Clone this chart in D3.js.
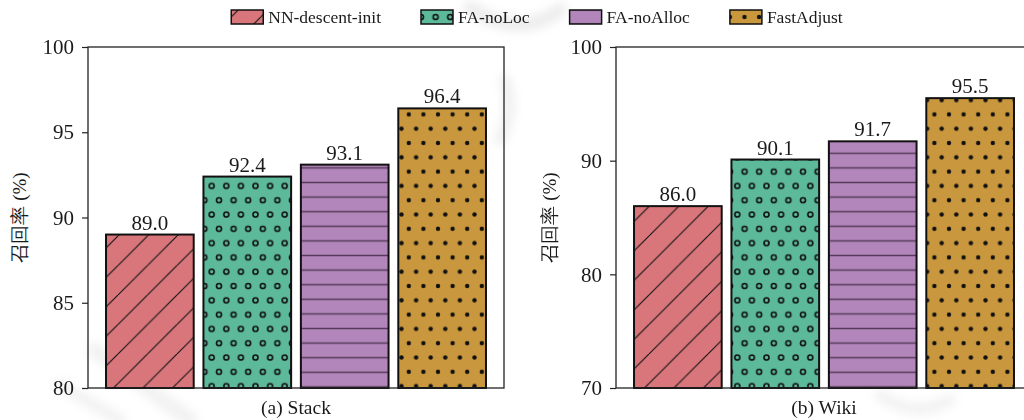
<!DOCTYPE html>
<html>
<head>
<meta charset="utf-8">
<script src="https://cdn.jsdelivr.net/npm/d3@7/dist/d3.min.js"></script>
<style>
  html, body { margin: 0; padding: 0; background: #fff; }
  svg { display: block; }
  text { font-family: "Liberation Serif", "DejaVu Serif", serif; fill: #1a1a1a; }
</style>
</head>
<body>
<svg id="chart" width="1024" height="420"></svg>
<script>
// Recall of each neighbour-graph construction variant on two datasets
const methods = ["NN-descent-init", "FA-noLoc", "FA-noAlloc", "FastAdjust"];
const stackRecall = [89.0, 92.4, 93.1, 96.4];
const wikiRecall = [86.0, 90.1, 91.7, 95.5];
const stackTicks = [80, 85, 90, 95, 100];
const wikiTicks = [70, 80, 90, 100];
const panelTitles = ["(a) Stack", "(b) Wiki"];
const yAxisTitle = "召回率 (%)";

const fills = ["#d9767b", "#5cb99a", "#b286bb", "#c9973d"];
const hatchIds = ["hatch-slash", "hatch-ring", "hatch-hline", "hatch-dot"];

const svg = d3.select("#chart");
const defs = svg.append("defs");

// diagonal "/" hatch
{
  const s = 29.5;
  const p = defs.append("pattern").attr("id", hatchIds[0])
    .attr("patternUnits", "userSpaceOnUse").attr("width", s).attr("height", s);
  p.append("rect").attr("width", s).attr("height", s).attr("fill", fills[0]);
  [[-s, s, 0, 0], [0, s, s, 0], [s, s, 2 * s, 0]].forEach(([x1, y1, x2, y2]) =>
    p.append("line").attr("x1", x1).attr("y1", y1).attr("x2", x2).attr("y2", y2)
      .attr("stroke", "#111").attr("stroke-width", 1.1));
}
// small rings, alternate rows offset by half a cell
{
  const w = 14.6, h = 28.6;
  const p = defs.append("pattern").attr("id", hatchIds[1])
    .attr("patternUnits", "userSpaceOnUse").attr("width", w).attr("height", h);
  p.append("rect").attr("width", w).attr("height", h).attr("fill", fills[1]);
  [[0, 0], [w, 0], [0, h], [w, h], [w / 2, h / 2]].forEach(([cx, cy]) =>
    p.append("circle").attr("cx", cx).attr("cy", cy).attr("r", 2.5)
      .attr("fill", "none").attr("stroke", "#111").attr("stroke-width", 1.6));
}
// horizontal lines
{
  const h = 14.6;
  const p = defs.append("pattern").attr("id", hatchIds[2])
    .attr("patternUnits", "userSpaceOnUse").attr("width", 20).attr("height", h);
  p.append("rect").attr("width", 20).attr("height", h).attr("fill", fills[2]);
  p.append("line").attr("x1", 0).attr("x2", 20).attr("y1", h / 2).attr("y2", h / 2)
    .attr("stroke", "#563a5a").attr("stroke-width", 1.5);
}
// dots, alternate rows offset by half a cell
{
  const w = 14.6, h = 28.6;
  const p = defs.append("pattern").attr("id", hatchIds[3])
    .attr("patternUnits", "userSpaceOnUse").attr("width", w).attr("height", h);
  p.append("rect").attr("width", w).attr("height", h).attr("fill", fills[3]);
  [[0, 0], [w, 0], [0, h], [w, h], [w / 2, h / 2]].forEach(([cx, cy]) =>
    p.append("circle").attr("cx", cx).attr("cy", cy).attr("r", 2.2).attr("fill", "#111"));
}

// faint background marks
const haze = defs.append("filter").attr("id", "haze").attr("x", "-50%").attr("y", "-50%")
  .attr("width", "200%").attr("height", "200%");
haze.append("feGaussianBlur").attr("stdDeviation", 5);
const bg = svg.append("g").attr("filter", "url(#haze)").attr("fill", "none")
  .attr("stroke", "#000").attr("stroke-linecap", "round");
bg.append("path").attr("d", "M470,8 Q520,40 560,10").attr("stroke-width", 14).attr("opacity", 0.07);
bg.append("path").attr("d", "M505,80 Q515,110 500,140").attr("stroke-width", 12).attr("opacity", 0.06);
bg.append("path").attr("d", "M95,350 L190,420").attr("stroke-width", 16).attr("opacity", 0.05);
bg.append("path").attr("d", "M60,385 L120,420").attr("stroke-width", 12).attr("opacity", 0.05);
bg.append("path").attr("d", "M880,395 Q915,420 950,400").attr("stroke-width", 12).attr("opacity", 0.05);

const plotTop = 47, plotBottom = 388;
const panels = [
  { left: 88, width: 416, values: stackRecall, ticks: stackTicks, domain: [80, 100], title: panelTitles[0], labelX: 19 },
  { left: 616, width: 416, values: wikiRecall, ticks: wikiTicks, domain: [70, 100], title: panelTitles[1], labelX: 549 }
];

panels.forEach(pn => {
  const x = d3.scaleBand().domain(methods).range([pn.left, pn.left + pn.width])
    .paddingInner(0.1).paddingOuter(0.185);
  const y = d3.scaleLinear().domain(pn.domain).range([plotBottom, plotTop]);
  const g = svg.append("g");

  g.selectAll("rect.bar").data(pn.values).join("rect").attr("class", "bar")
    .attr("x", (d, i) => x(methods[i]))
    .attr("y", d => y(d))
    .attr("width", x.bandwidth())
    .attr("height", d => y(pn.domain[0]) - y(d))
    .attr("fill", (d, i) => `url(#${hatchIds[i]})`)
    .attr("stroke", "#111").attr("stroke-width", 2);

  g.selectAll("text.val").data(pn.values).join("text").attr("class", "val")
    .attr("x", (d, i) => x(methods[i]) + x.bandwidth() / 2)
    .attr("y", d => y(d) - 5)
    .attr("text-anchor", "middle").attr("font-size", 21)
    .text(d => d.toFixed(1));

  // frame
  g.append("rect").attr("x", pn.left).attr("y", plotTop).attr("width", pn.width).attr("height", plotBottom - plotTop)
    .attr("fill", "none").attr("stroke", "#222").attr("stroke-width", 1.3);

  const ax = g.append("g").attr("transform", `translate(${pn.left},0)`)
    .call(d3.axisLeft(y).tickValues(pn.ticks).tickSize(6).tickPadding(8).tickFormat(d3.format("d")));
  ax.select(".domain").remove();
  ax.selectAll(".tick line").attr("stroke", "#222").attr("stroke-width", 1.2);
  ax.selectAll(".tick text").attr("font-size", 21).attr("fill", "#1a1a1a")
    .attr("font-family", "Liberation Serif, serif");

  g.append("text").attr("transform", `translate(${pn.labelX},${(plotTop + plotBottom) / 2}) rotate(-90)`)
    .attr("text-anchor", "middle").attr("dy", "0.35em").attr("font-size", 19)
    .attr("font-family", "Noto Sans CJK SC, sans-serif").attr("font-weight", 300).attr("fill", "#444")
    .text(yAxisTitle);

  g.append("text").attr("x", pn.left + pn.width / 2).attr("y", 414)
    .attr("text-anchor", "middle").attr("font-size", 19.5).text(pn.title);
});

// legend across the top
const legend = svg.append("g");
const items = legend.selectAll("g").data(methods).join("g");
items.append("rect").attr("width", 32).attr("height", 14).attr("y", -7)
  .attr("fill", (d, i) => `url(#${hatchIds[i]})`).attr("stroke", "#111").attr("stroke-width", 1.5);
items.append("text").attr("x", 37).attr("dy", "0.35em").attr("font-size", 17.5).text(d => d);
let cx = 0;
const gap = 40;
items.each(function () {
  const w = 37 + d3.select(this).select("text").node().getComputedTextLength();
  d3.select(this).attr("transform", `translate(${cx},0)`);
  cx += w + gap;
});
const total = cx - gap;
legend.attr("transform", `translate(${537 - total / 2},17)`);
</script>
</body>
</html>
